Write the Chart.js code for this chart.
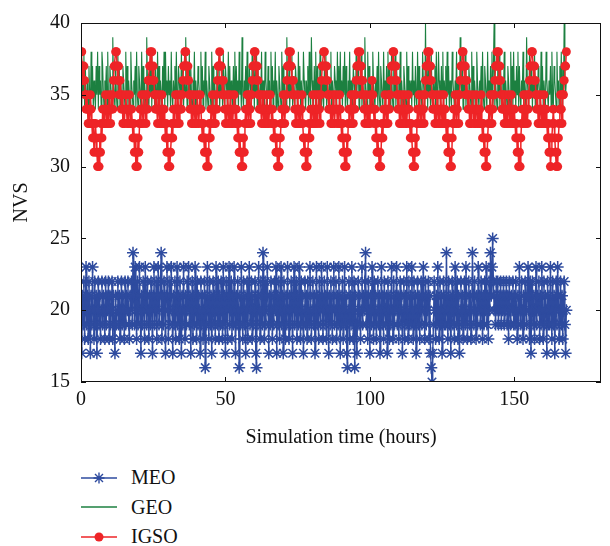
<!DOCTYPE html>
<html>
<head>
<meta charset="utf-8">
<script src="https://cdn.jsdelivr.net/npm/chart.js@4.4.0/dist/chart.umd.min.js"></script>
<style>
    body { margin: 0; background: #ffffff; }
    #wrap { position: relative; width: 610px; height: 546px; }
    #nvsChart { position: absolute; left: 0; top: 0; }
    #legend {
        position: absolute; left: 81px; top: 463px;
        font-family: 'Liberation Serif', 'DejaVu Serif', serif;
        font-size: 20px; color: #111;
    }
    .item { display: flex; align-items: center; height: 29.5px; }
    .item svg { margin-right: 14px; }
</style>
</head>
<body>
<div id="wrap">
    <canvas id="nvsChart" width="610" height="450"></canvas>
    <div id="legend">
        <div class="item">
            <svg width="36" height="14"><line x1="0" y1="7" x2="36" y2="7" stroke="#2e4b9f" stroke-width="1.4"/>
                <path d="M18 1.5 L18 12.5 M12.5 7 L23.5 7 M14 3 L22 11 M22 3 L14 11" stroke="#2e4b9f" stroke-width="1.4"/></svg>
            <span>MEO</span>
        </div>
        <div class="item">
            <svg width="36" height="14"><line x1="0" y1="7" x2="36" y2="7" stroke="#1c8040" stroke-width="1.3"/></svg>
            <span>GEO</span>
        </div>
        <div class="item">
            <svg width="36" height="14"><line x1="0" y1="7" x2="36" y2="7" stroke="#ee2427" stroke-width="1.5"/>
                <circle cx="18" cy="7" r="4.5" fill="#ee2427"/></svg>
            <span>IGSO</span>
        </div>
    </div>
</div>
<script>
// Number of visible satellites, one value every quarter hour (0 - 168 h)
const STEP_HOURS = 0.25;

const meoValues = [
    20,17,21,19,22,18,20,23,19,21,18,22,20,17,21,19,23,20,18,22,19,21,17,20,
    22,19,21,18,20,22,19,21,20,18,22,19,21,20,22,18,21,19,20,22,18,21,19,17,
    21,19,20,22,19,21,18,20,22,19,21,20,18,22,19,21,20,22,19,18,21,20,22,19,
    24,21,19,23,20,18,22,19,21,23,20,17,21,19,22,20,18,23,21,19,22,20,18,21,
    19,22,20,17,21,23,19,20,22,18,21,23,19,20,22,24,18,21,19,22,20,17,21,23,
    20,18,22,19,21,23,20,17,21,19,22,18,20,23,19,21,18,22,20,17,21,19,23,20,
    18,21,19,22,20,23,19,21,17,20,22,18,21,19,23,20,18,22,19,21,20,17,22,19,
    21,18,20,22,16,21,19,23,20,18,22,19,21,17,20,22,19,21,18,23,20,19,22,18,
    21,19,22,20,18,23,19,21,17,22,20,18,21,23,19,20,22,18,21,19,23,20,17,21,
    19,22,20,16,21,19,23,20,18,22,19,21,17,20,22,18,21,23,19,20,22,18,21,19,
    20,22,17,16,21,19,23,20,18,22,21,19,24,20,18,22,19,21,23,20,17,21,19,22,
    20,18,21,19,22,20,23,17,21,19,22,18,20,23,19,21,17,22,20,18,21,19,23,20,
    18,21,19,22,20,17,21,23,19,20,22,18,21,19,23,20,18,22,19,21,17,20,22,19,
    21,18,22,20,19,23,21,18,20,22,19,21,17,20,23,19,21,18,22,20,19,23,21,18,
    20,22,19,21,18,23,20,17,21,19,22,20,18,21,23,19,20,22,18,21,19,23,20,17,
    21,19,22,18,20,23,19,21,17,16,20,22,18,21,19,23,20,18,22,16,21,19,17,20,
    22,19,21,18,20,23,19,21,20,22,24,19,21,18,22,20,17,21,19,23,20,18,22,19,
    21,18,20,22,19,21,17,20,23,19,21,18,22,20,19,21,17,22,20,18,21,19,23,20,
    18,22,19,21,20,23,19,21,18,20,22,19,21,17,20,22,18,21,19,23,20,18,22,19,
    21,19,23,20,18,22,19,21,17,20,22,19,21,18,20,22,19,21,23,20,18,22,19,21,
    20,22,18,21,17,16,15,17,19,22,20,18,21,19,23,20,18,22,19,21,17,20,22,19,
    21,19,24,20,18,22,19,21,17,20,22,19,21,18,23,20,19,22,18,21,17,20,22,19,
    21,18,20,22,19,23,21,18,20,22,19,21,18,20,24,21,19,22,20,18,21,19,23,20,
    21,19,22,20,18,21,19,22,20,23,19,21,18,22,20,24,21,23,25,22,20,21,19,22,
    20,22,19,21,20,22,19,21,20,22,19,21,20,22,19,21,18,22,20,19,21,20,22,19,
    21,19,22,20,18,21,19,23,20,19,22,20,18,21,19,22,20,19,21,23,20,18,22,17,
    20,22,19,21,18,20,23,19,21,20,22,18,21,19,23,20,18,22,19,21,20,17,22,19,
    21,19,23,20,18,22,19,21,17,20,22,19,23,21,18,20,22,19,21,18,20,22,19,17,
    20
];

const geoValues = [
    36,34,37,35,38,34,37,35,34,36,33,37,35,34,38,35,37,34,36,35,34,37,35,38,
    34,37,35,36,34,38,37,35,34,36,35,37,34,38,35,34,37,36,35,34,39,36,35,34,
    37,35,34,38,35,37,34,36,35,34,37,36,35,34,38,35,37,34,36,35,34,38,36,35,
    34,36,35,37,34,38,35,34,37,36,35,34,38,35,37,34,36,35,34,39,36,35,34,37,
    35,38,34,37,35,36,34,37,35,34,38,35,37,34,36,35,34,37,35,38,34,38,35,36,
    34,37,35,36,34,38,35,34,36,35,37,34,38,35,34,37,36,35,34,38,35,37,34,36,
    35,39,36,34,37,35,38,34,37,35,34,36,35,38,34,36,35,34,37,36,35,34,38,35,
    37,34,36,35,38,34,36,35,34,37,36,35,34,38,35,37,34,36,35,34,37,36,35,38,
    34,36,35,37,34,38,35,34,37,36,35,34,38,35,37,34,36,35,34,37,35,38,34,37,
    35,36,34,38,35,36,34,39,35,34,36,35,37,34,38,35,34,37,36,35,34,38,35,37,
    34,37,35,38,34,37,35,34,36,35,38,34,36,35,34,38,36,35,34,37,35,36,34,38,
    35,37,34,36,35,38,34,36,35,34,37,36,35,34,38,35,37,34,36,35,34,39,36,35,
    37,34,36,35,38,34,36,35,34,37,36,35,34,38,35,37,34,36,35,34,38,36,35,34,
    36,35,37,34,38,35,34,39,36,35,34,37,35,38,34,37,35,36,34,38,35,34,36,35,
    34,37,35,38,34,37,35,34,36,35,38,34,36,35,34,37,36,35,34,38,35,37,34,38,
    35,36,34,37,35,38,34,37,35,34,36,35,38,34,36,35,34,37,36,35,34,38,35,37,
    37,34,36,35,38,34,36,35,34,39,36,35,34,38,35,37,34,36,35,34,38,36,35,34,
    36,35,37,34,38,35,34,37,36,35,34,38,35,36,34,37,35,38,34,37,35,34,38,35,
    34,37,35,38,34,37,35,34,36,35,38,34,36,35,34,37,36,35,34,38,35,37,34,36,
    35,36,34,38,35,36,34,37,35,34,38,35,37,34,36,35,34,38,36,35,34,40,35,37,
    34,37,35,36,34,38,35,34,36,35,37,34,38,35,34,38,36,35,34,37,35,38,34,36,
    35,37,34,38,35,37,34,36,35,34,38,36,35,34,36,35,38,34,36,35,34,39,36,35,
    37,34,36,35,38,34,36,35,34,37,36,35,34,38,35,37,34,36,35,34,38,36,35,34,
    36,35,37,34,38,35,34,37,36,35,34,38,35,36,34,37,35,38,34,37,40,34,36,35,
    34,37,35,38,34,37,35,34,36,35,38,34,36,35,34,37,36,35,34,38,35,37,34,38,
    35,36,34,37,35,38,34,37,35,34,36,35,38,34,36,35,34,39,36,35,34,38,35,37,
    37,34,36,35,38,34,36,35,34,37,36,35,34,38,35,37,34,36,35,34,38,36,35,34,
    36,35,37,34,38,35,34,37,36,35,34,38,35,36,34,37,35,38,34,37,35,40,36,35,
    36
];

const igsoValues = [
    38,38,37,36,37,36,35,34,35,34,33,34,33,35,34,33,32,33,31,32,33,32,31,30,
    31,30,32,31,33,32,34,33,34,33,35,34,33,34,33,35,34,33,34,35,34,36,37,37,
    38,38,37,36,37,35,36,35,34,35,33,34,33,34,35,34,33,34,33,35,34,33,34,33,
    32,33,31,32,30,31,30,32,31,33,34,33,35,34,33,34,35,34,33,35,34,36,36,37,
    38,37,38,36,37,36,35,34,35,34,33,34,35,33,34,33,35,34,33,34,33,32,33,31,
    32,30,31,30,31,32,33,32,34,33,34,35,34,33,35,34,33,34,35,34,35,36,37,37,
    38,38,37,36,37,36,35,34,35,33,34,33,35,34,33,34,33,35,34,33,34,35,34,33,
    32,33,32,31,32,31,30,31,30,32,33,32,34,33,35,34,33,34,33,35,34,36,37,37,
    38,37,37,36,35,36,35,34,33,34,33,35,34,33,34,35,33,34,33,34,35,34,33,34,
    33,32,33,31,32,31,30,31,30,32,31,33,34,33,35,34,33,35,34,33,35,36,37,37,
    38,38,37,36,37,36,35,34,35,34,33,34,35,33,34,33,34,35,33,34,33,34,35,34,
    33,34,33,32,33,32,31,32,30,31,30,31,32,33,34,33,35,34,33,34,35,36,37,37,
    38,37,38,37,36,35,36,35,34,33,34,33,35,34,33,34,33,34,35,33,32,31,32,30,
    31,30,31,32,33,32,34,33,34,35,33,34,33,35,34,33,34,35,34,33,35,36,37,37,
    38,38,37,36,37,36,35,34,35,34,33,34,33,35,34,33,34,35,34,33,34,33,35,34,
    33,32,33,31,32,30,31,30,32,31,33,34,33,34,35,33,34,33,35,34,35,36,37,37,
    38,37,38,36,37,35,36,35,34,33,34,35,33,34,33,34,33,35,34,36,35,34,33,34,
    32,33,31,32,31,30,31,30,32,33,32,34,33,35,34,33,34,33,35,34,35,36,37,37,
    38,38,37,36,37,36,35,34,35,33,34,33,35,34,33,34,35,33,34,33,34,35,34,33,
    32,33,32,31,30,31,30,32,31,33,34,33,35,34,33,34,33,35,34,33,35,36,37,37,
    38,37,38,36,37,36,35,34,35,34,33,34,33,35,34,33,34,33,35,34,33,34,35,33,
    34,33,32,33,31,32,31,30,31,30,32,33,34,33,35,34,33,34,35,33,35,36,37,37,
    38,38,37,36,37,35,36,35,34,35,33,34,33,34,35,34,33,34,33,35,34,33,34,33,
    34,33,35,33,32,33,31,32,30,31,30,32,33,34,33,35,34,33,34,35,35,36,37,37,
    38,37,38,36,37,36,35,34,35,34,33,35,34,33,34,33,35,34,33,34,35,33,34,33,
    34,33,32,33,31,32,30,31,30,32,33,34,33,35,34,33,34,35,33,34,35,36,37,37,
    38,38,37,36,37,36,35,34,35,33,34,33,35,34,33,34,33,35,34,33,34,33,32,33,
    31,32,30,31,32,33,34,33,32,31,30,31,30,32,33,34,35,34,33,35,35,36,37,37,
    38
];

const xTicks = [0, 50, 100, 150];
const yTicks = [15, 20, 25, 30, 35, 40];

const colors = {
    meo: '#2e4b9f',
    geo: '#1c8040',
    igso: '#ee2427',
    axis: '#111111'
};

const serif = "'Liberation Serif', 'DejaVu Serif', serif";
const fontSize = 20;

function toPoints(values) {
    return values.map((v, i) => ({ x: i * STEP_HOURS, y: v }));
}

// box around the plot with inward tick marks
const framePlugin = {
    id: 'frame',
    afterDatasetsDraw(chart) {
        const { ctx, chartArea: a, scales: { x, y } } = chart;
        const len = 5;
        ctx.save();
        ctx.strokeStyle = colors.axis;
        ctx.lineWidth = 1;
        ctx.strokeRect(a.left + 0.5, a.top + 0.5, a.right - a.left - 1, a.bottom - a.top - 1);
        ctx.beginPath();
        x.ticks.forEach(t => {
            const px = Math.round(x.getPixelForValue(t.value)) + 0.5;
            ctx.moveTo(px, a.bottom); ctx.lineTo(px, a.bottom - len);
            ctx.moveTo(px, a.top); ctx.lineTo(px, a.top + len);
        });
        y.ticks.forEach(t => {
            const py = Math.round(y.getPixelForValue(t.value)) + 0.5;
            ctx.moveTo(a.left, py); ctx.lineTo(a.left + len, py);
            ctx.moveTo(a.right, py); ctx.lineTo(a.right - len, py);
        });
        ctx.stroke();
        ctx.restore();
    }
};

const ctx = document.getElementById('nvsChart');

new Chart(ctx, {
    type: 'line',
    data: {
        datasets: [
            {
                label: 'MEO',
                data: toPoints(meoValues),
                borderColor: colors.meo,
                backgroundColor: colors.meo,
                borderWidth: 1.4,
                pointStyle: 'star',
                pointRadius: 6,
                pointBorderWidth: 1.5,
                pointBorderColor: colors.meo,
                order: 0
            },
            {
                label: 'GEO',
                data: toPoints(geoValues),
                borderColor: colors.geo,
                borderWidth: 1.1,
                pointRadius: 0,
                order: 2
            },
            {
                label: 'IGSO',
                data: toPoints(igsoValues),
                borderColor: colors.igso,
                backgroundColor: colors.igso,
                borderWidth: 1.5,
                pointStyle: 'circle',
                pointRadius: 4.5,
                pointBorderWidth: 0,
                order: 1
            }
        ]
    },
    options: {
        responsive: false,
        animation: false,
        layout: { padding: { top: 7, right: 9, left: 0, bottom: 0 } },
        plugins: {
            legend: { display: false },
            tooltip: { enabled: false }
        },
        elements: { line: { tension: 0 } },
        scales: {
            x: {
                type: 'linear',
                min: 0,
                max: 180,
                afterBuildTicks: scale => { scale.ticks = xTicks.map(v => ({ value: v })); },
                afterFit: scale => { scale.height = 68; },
                grid: { display: false, drawTicks: false },
                border: { display: false },
                ticks: {
                    padding: 6,
                    color: colors.axis,
                    font: { family: serif, size: fontSize }
                },
                title: {
                    display: true,
                    text: 'Simulation time (hours)',
                    color: colors.axis,
                    padding: { top: 0, bottom: 0 },
                    font: { family: serif, size: fontSize }
                }
            },
            y: {
                type: 'linear',
                min: 15,
                max: 40,
                afterBuildTicks: scale => { scale.ticks = yTicks.map(v => ({ value: v })); },
                afterFit: scale => { scale.width = 81; },
                grid: { display: false, drawTicks: false },
                border: { display: false },
                ticks: {
                    padding: 11,
                    color: colors.axis,
                    font: { family: serif, size: fontSize }
                },
                title: {
                    display: true,
                    text: 'NVS',
                    color: colors.axis,
                    padding: { top: 10, bottom: 0 },
                    font: { family: serif, size: fontSize }
                }
            }
        }
    },
    plugins: [framePlugin]
});
</script>
</body>
</html>
